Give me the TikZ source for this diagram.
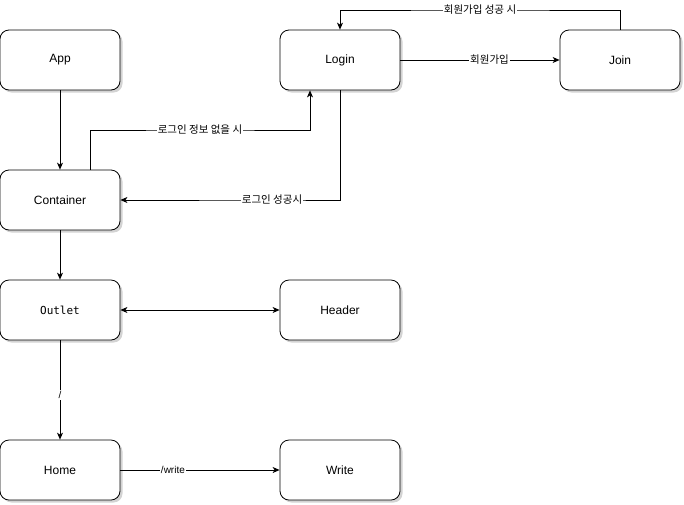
\documentclass[tikz,border=0pt]{standalone}
\usepackage{fontspec}
\setmainfont{Liberation Sans}
\newfontfamily\kofont{Noto Sans CJK KR}
\newfontfamily\monofont{DejaVu Sans Mono}
\usetikzlibrary{arrows.meta,shadows}
\begin{document}
\begin{tikzpicture}[x=1pt,y=-1pt,
  box/.style={draw=black, line width=0.8pt, rounded corners=9pt, minimum width=120pt, minimum height=60pt, inner sep=0pt, fill=white, font=\fontsize{12}{14}\selectfont,
    drop shadow={shadow xshift=2.5pt, shadow yshift=-2.5pt, opacity=0.35, fill=gray}},
  conn/.style={draw=black, line width=0.7pt, -{Stealth[length=7pt,width=6pt,inset=2pt]}},
  lbl/.style={fill=white, inner sep=1pt, font=\kofont\fontsize{10.5}{12}\selectfont}
]
\useasboundingbox (0,0) rectangle (684,504);
\node[box] (app) at (60,60) {App};
\node[box] (login) at (340,60) {Login};
\node[box] (join) at (620,60) {Join};
\node[box] (cont) at (60,200) {Container};
\node[box] (outlet) at (60,310) {\monofont\fontsize{11}{13}\selectfont Outlet};
\node[box] (header) at (340,310) {Header};
\node[box] (home) at (60,470) {Home};
\node[box] (write) at (340,470) {Write};

\draw[conn] (app) -- (cont);
\draw[conn] ([xshift=30pt]cont.north) |- (200,130) node[lbl] {로그인 정보 없을 시} -| ([xshift=-30pt]login.south);
\draw[conn] ([xshift=0pt]login.south) |- (272,200) node[lbl] {로그인 성공시} -- (cont.east);
\draw[conn] (login) -- node[lbl, pos=0.56] {회원가입} (join);
\draw[conn] (join.north) |- (480,10) node[lbl] {회원가입 성공 시} -| (login.north);
\draw[conn] (cont) -- (outlet);
\draw[conn, {Stealth[length=7pt,width=6pt,inset=2pt]}-{Stealth[length=7pt,width=6pt,inset=2pt]}] (outlet) -- (header);
\draw[conn] (outlet) -- node[lbl, font=\fontsize{10}{12}\selectfont, pos=0.55] {/} (home);
\draw[conn] (home) -- node[lbl, font=\fontsize{10}{12}\selectfont, pos=0.33] {/write} (write);
\end{tikzpicture}
\end{document}
